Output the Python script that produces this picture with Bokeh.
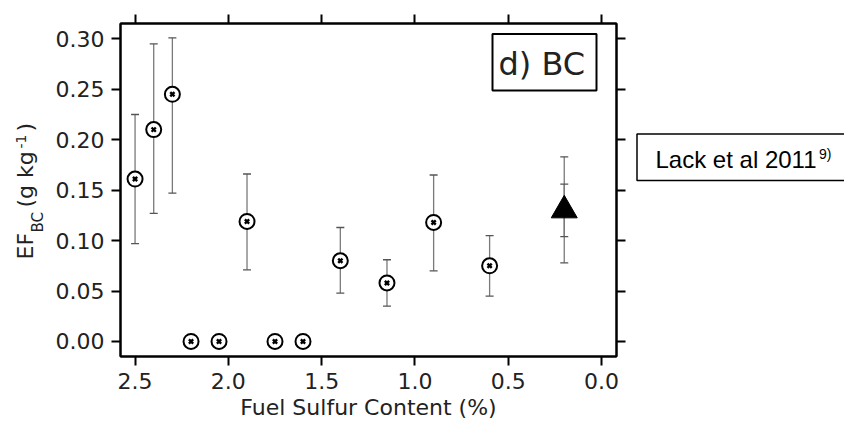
import math
from bokeh.plotting import figure
from bokeh.layouts import row
from bokeh.models import (ColumnDataSource, Whisker, TeeHead, FixedTicker, PrintfTickFormatter,
                          LinearAxis, Range1d, CustomLabelingPolicy)
from bokeh.core.properties import value
from bokeh.embed import file_html
from bokeh.resources import INLINE

# ---- data ----
sulfur = [2.5, 2.4, 2.3, 2.2, 2.05, 1.9, 1.75, 1.6, 1.4, 1.15, 0.9, 0.6]
ef_bc = [0.161, 0.210, 0.245, 0.0, 0.0, 0.119, 0.0, 0.0, 0.080, 0.058, 0.118, 0.075]
ef_lo = [0.097, 0.127, 0.147, None, None, 0.071, None, None, 0.048, 0.035, 0.070, 0.045]
ef_hi = [0.225, 0.295, 0.301, None, None, 0.166, None, None, 0.113, 0.081, 0.165, 0.105]

lack_x = [0.2]
lack_y = [0.13]
lack_lo_outer = [0.078]
lack_hi_outer = [0.183]
lack_lo_inner = [0.104]
lack_hi_inner = [0.156]

x_ticks = [2.5, 2.0, 1.5, 1.0, 0.5, 0.0]
y_ticks = [0.0, 0.05, 0.10, 0.15, 0.20, 0.25, 0.30]

# ---- geometry (canvas pixels) ----
W, H = 844, 427
X_START, X_END = 2.578, -0.080
Y_START, Y_END = -0.0149, 0.3152
WL = 52            # left strip holding the composed y-axis title
ML = 68            # main figure left border (tick labels)
FT, FW, FH = 23, 496, 333
FB = FT + FH
MR = 16            # main figure right border
FL = WL + ML
WR = W - WL - ML - FW - MR   # right strip with the reference box
MID = 0.346        # baseline -> middle offset (fraction of font size)

FONT = "DejaVu Sans"
TXT = "#222222"

# ---- main figure ----
p = figure(frame_width=FW, frame_height=FH,
           x_range=Range1d(X_START, X_END), y_range=Range1d(Y_START, Y_END),
           output_backend="svg", toolbar_location=None,
           min_border_left=ML, min_border_right=MR,
           min_border_top=FT, min_border_bottom=H - FB,
           background_fill_color="white", border_fill_color="white")
p.grid.visible = False
p.outline_line_color = "black"
p.outline_line_width = 2

xb = p.below[0]
yl = p.left[0]
xb.ticker = FixedTicker(ticks=x_ticks)
yl.ticker = FixedTicker(ticks=y_ticks)
xb.formatter = PrintfTickFormatter(format="%.1f")
yl.formatter = PrintfTickFormatter(format="%.2f")

no_labels = CustomLabelingPolicy(code="for (const i of indices) indices.unset(i); return indices")
ax_top = LinearAxis(ticker=FixedTicker(ticks=x_ticks), major_label_policy=no_labels)
ax_right = LinearAxis(ticker=FixedTicker(ticks=y_ticks), major_label_policy=no_labels)
p.add_layout(ax_top, "above")
p.add_layout(ax_right, "right")

for ax in (xb, yl, ax_top, ax_right):
    ax.axis_line_color = "black"
    ax.axis_line_width = 2
    ax.major_tick_line_color = "black"
    ax.major_tick_line_width = 2
    ax.major_tick_out = 9
    ax.major_tick_in = 0
    ax.minor_tick_out = 0
    ax.minor_tick_in = 0
    ax.major_label_text_font = FONT
    ax.major_label_text_font_size = "22px"
    ax.major_label_text_color = TXT
    ax.major_label_standoff = 7

for ax in (ax_top, ax_right):
    ax.major_label_standoff = 0
    ax.major_label_text_font_size = "0px"

xb.axis_label = "Fuel Sulfur Content (%)"
xb.axis_label_text_font = FONT
xb.axis_label_text_font_size = "22px"
xb.axis_label_text_font_style = "normal"
xb.axis_label_text_color = TXT
xb.axis_label_standoff = 3

# ---- error bars ----
idx = [i for i in range(len(sulfur)) if ef_lo[i] is not None]
err_src = ColumnDataSource(dict(x=[sulfur[i] for i in idx],
                                lo=[ef_lo[i] for i in idx],
                                hi=[ef_hi[i] for i in idx]))
EC = "#7a7a7a"


def whisk(src, lo, hi):
    return Whisker(source=src, base="x", lower=lo, upper=hi,
                   line_color=EC, line_width=1.3,
                   upper_head=TeeHead(size=8, line_color="#555555", line_width=1.3),
                   lower_head=TeeHead(size=8, line_color="#555555", line_width=1.3))


p.add_layout(whisk(err_src, "lo", "hi"))

lack_src = ColumnDataSource(dict(x=lack_x, y=lack_y, lo1=lack_lo_outer, hi1=lack_hi_outer,
                                 lo2=lack_lo_inner, hi2=lack_hi_inner))
p.add_layout(whisk(lack_src, "lo1", "hi1"))
p.add_layout(whisk(lack_src, "lo2", "hi2"))

# ---- markers ----
pt_src = ColumnDataSource(dict(x=sulfur, y=ef_bc))
p.scatter("x", "y", source=pt_src, marker="circle", size=15,
          fill_color="white", line_color="black", line_width=2)
p.scatter("x", "y", source=pt_src, marker="x", size=6,
          line_color="black", line_width=2.4)
p.scatter("x", "y", source=lack_src, marker="triangle", size=26,
          fill_color="black", line_color="black", line_width=1)


def dx(cx):
    return X_START + (cx - FL) / FW * (X_END - X_START)


def dy(cy):
    return Y_END - (cy - FT) / FH * (Y_END - Y_START)


# ---- panel label box "d) BC" ----
p.quad(left=[dx(492)], right=[dx(596)], top=[dy(33.5)], bottom=[dy(90)],
       fill_color="white", line_color="black", line_width=2)
p.text(x=[dx(498)], y=[dy(75 - MID * 32)], text=["d) BC"], text_font=value(FONT),
       text_font_size="32px", text_color=TXT,
       text_align="left", text_baseline="middle")

# ---- left strip: composed, rotated y-axis title ----
# (frames in a row are aligned, so this strip's frame spans the main frame's rows FT..FB)
pl = figure(width=WL, height=H, x_range=Range1d(0, WL), y_range=Range1d(FB, FT),
            output_backend="svg", toolbar_location=None, min_border=0,
            min_border_top=FT, min_border_bottom=H - FB,
            x_axis_type=None, y_axis_type=None,
            background_fill_color="white", border_fill_color="white")
pl.grid.visible = False
pl.outline_line_color = None
ylab_text = ["EF", "BC", "(g kg", "-1", ")"]
ylab_base = [33, 43, 33, 25, 33]      # baseline positions (text runs upward)
ylab_y = [259, 232, 207, 148, 131]
ylab_fs = [22, 15, 22, 14, 22]
ylab_x = [b - MID * f for b, f in zip(ylab_base, ylab_fs)]
pl.text(x="x", y="y", text="t", text_font_size="s",
        source=ColumnDataSource(dict(x=ylab_x, y=ylab_y, t=ylab_text,
                                     s=["%dpx" % f for f in ylab_fs])),
        angle=math.pi / 2, text_font=value(FONT), text_color=TXT,
        text_align="left", text_baseline="middle")

# ---- right strip: reference box ----
x0 = WL + ML + FW + MR
pr = figure(width=WR, height=H, x_range=Range1d(x0, W), y_range=Range1d(FB, FT),
            output_backend="svg", toolbar_location=None, min_border=0,
            min_border_top=FT, min_border_bottom=H - FB,
            x_axis_type=None, y_axis_type=None,
            background_fill_color="white", border_fill_color="white")
pr.grid.visible = False
pr.outline_line_color = None
pr.quad(left=[636.5], right=[W + 20], top=[133.5], bottom=[180],
        fill_color="white", line_color="black", line_width=1.5)
pr.text(x=[655], y=[167 - MID * 24], text=["Lack et al 2011"], text_font=value("Liberation Sans"),
        text_font_size="24px", text_color="black", text_align="left", text_baseline="middle")
pr.text(x=[818.5], y=[158.5 - MID * 14], text=["9)"], text_font=value("Liberation Sans"),
        text_font_size="14px", text_color="black", text_align="left", text_baseline="middle")

layout = row(pl, p, pr)
open("out.html", "w").write(file_html(layout, INLINE))
